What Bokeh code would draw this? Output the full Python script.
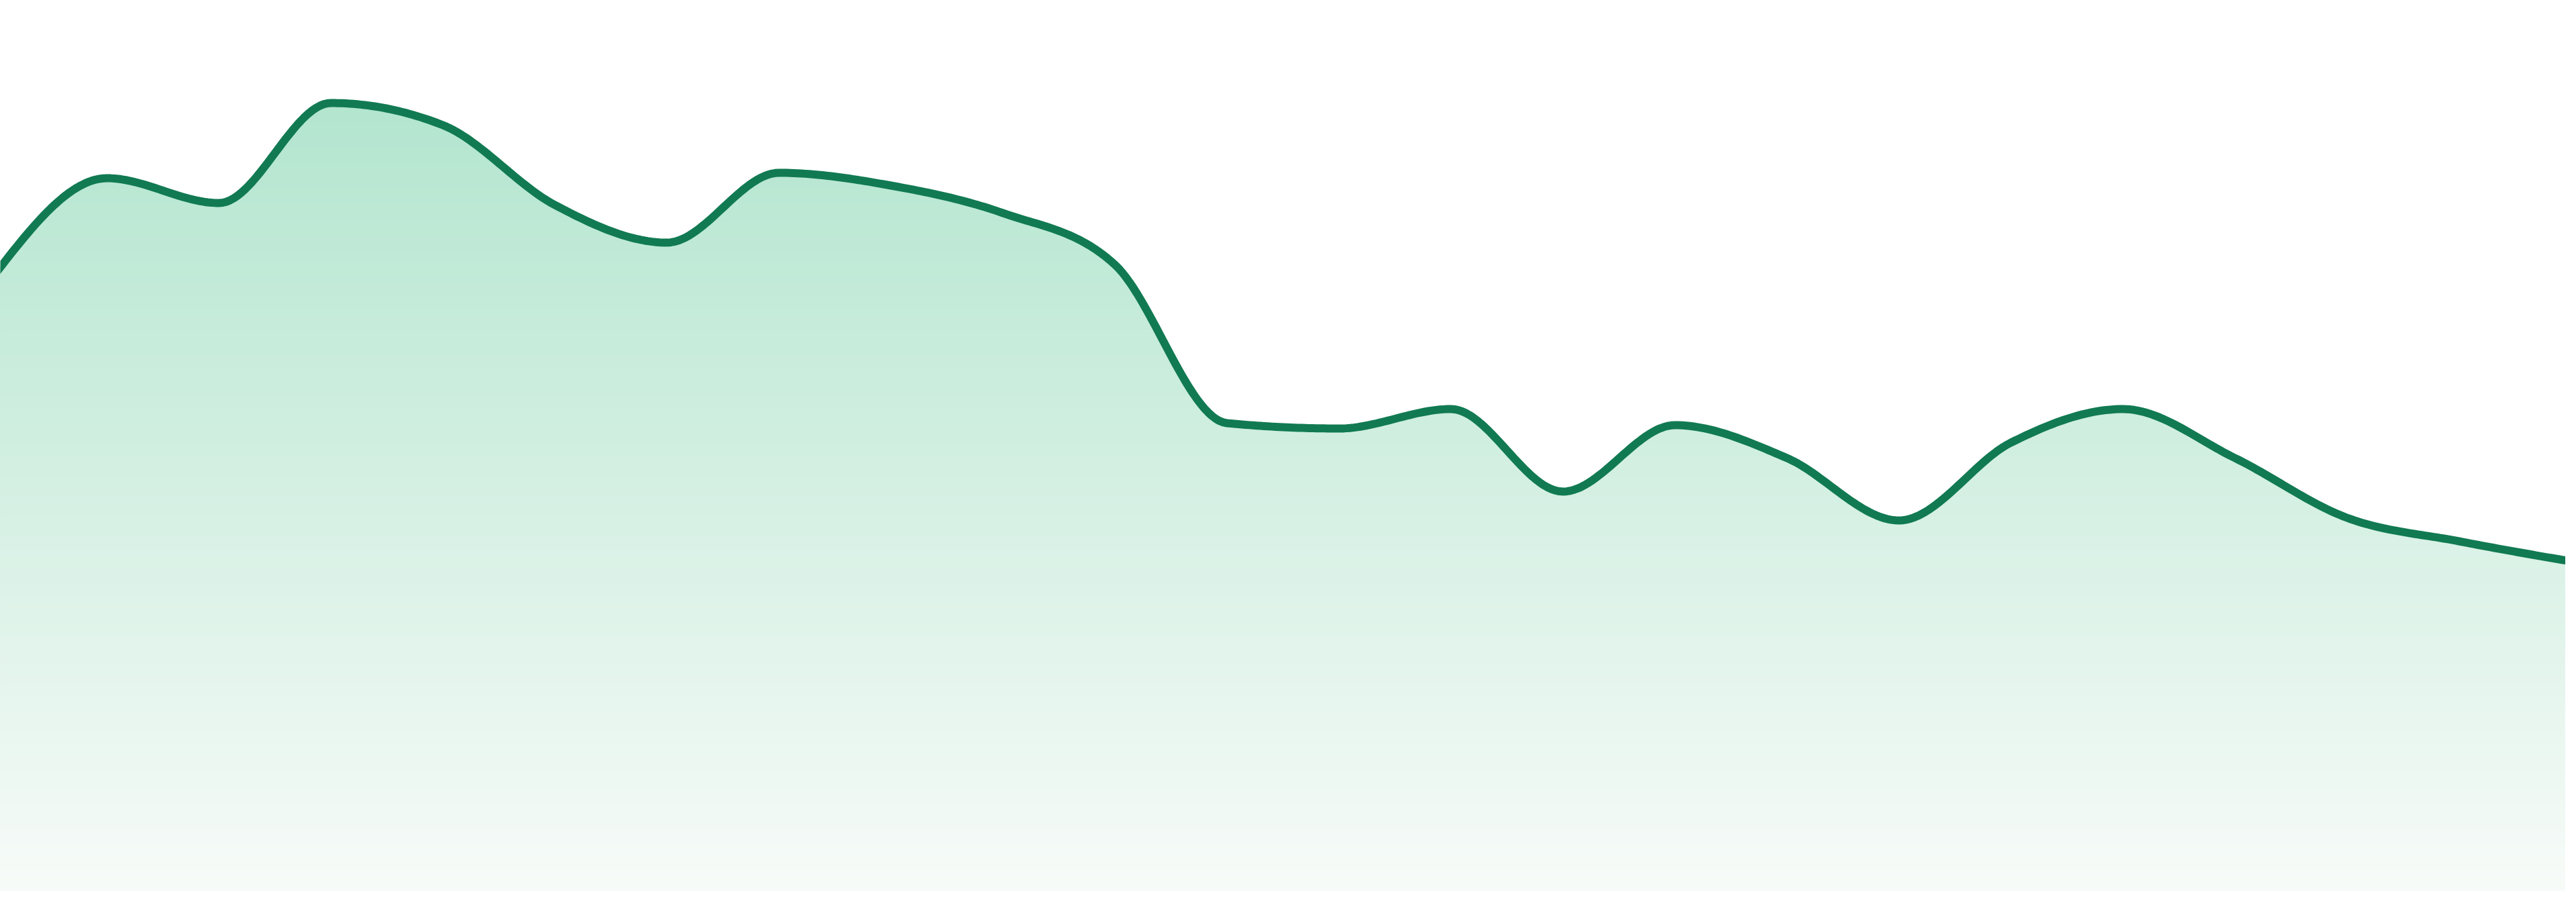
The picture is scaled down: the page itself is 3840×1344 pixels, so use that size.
import numpy as np
from bokeh.plotting import figure
from bokeh.models import Range1d
from bokeh.embed import file_html
from bokeh.resources import INLINE

# ---- data ----
periods = list(range(24))
values = [92.8, 107.1, 103.4, 118.3, 115.0, 103.1, 97.5, 107.9, 106.0, 101.9,
          94.2, 70.6, 69.8, 72.7, 60.4, 70.3, 65.4, 56.1, 67.7, 72.7,
          65.4, 56.5, 53.0, 50.0]

# ---- style ----
LINE_COLOR = "#117a53"
FILL_TOP = (178, 229, 206)
FILL_BOTTOM = (248, 251, 249)
GRAD_TOP_VALUE = 119.4
STEP_PX = 3840 / 23.0   # pixels per period in the reference


def monotone_x(xs, ys, samples=30):
    """d3.curveMonotoneX style interpolation for drawing the smooth curve."""
    xs = np.asarray(xs, float)
    ys = np.asarray(ys, float)
    n = len(xs)
    h = np.diff(xs)
    s = np.diff(ys) / h
    t = np.zeros(n)
    for i in range(1, n - 1):
        s0, s1 = s[i - 1], s[i]
        p = (s0 * h[i] + s1 * h[i - 1]) / (h[i - 1] + h[i])
        t[i] = (np.sign(s0) + np.sign(s1)) * min(abs(s0), abs(s1), 0.5 * abs(p))
    t[0] = (3 * s[0] - t[1]) / 2
    t[-1] = (3 * s[-1] - t[-2]) / 2
    out_x, out_y = [], []
    for i in range(n - 1):
        u = np.linspace(0, 1, samples, endpoint=(i == n - 2))
        h00 = 2 * u**3 - 3 * u**2 + 1
        h10 = u**3 - 2 * u**2 + u
        h01 = -2 * u**3 + 3 * u**2
        h11 = u**3 - u**2
        out_x.append(xs[i] + u * h[i])
        out_y.append(h00 * ys[i] + h10 * h[i] * t[i] + h01 * ys[i + 1] + h11 * h[i] * t[i + 1])
    return np.concatenate(out_x), np.concatenate(out_y)


def grad_color(v):
    f = max(0.0, min(1.0, v / GRAD_TOP_VALUE))
    r, g, b = (int(round(FILL_BOTTOM[k] + f * (FILL_TOP[k] - FILL_BOTTOM[k]))) for k in range(3))
    return "#%02x%02x%02x" % (r, g, b)


cx, cy = monotone_x(periods, values)

W, H = 3824, 1328
p = figure(width=W, height=H,
           x_range=Range1d(8 / STEP_PX, 23 - 8 / STEP_PX),
           y_range=Range1d(0.8, 133.6),
           output_backend="svg", toolbar_location=None, min_border=0,
           x_axis_location=None, y_axis_location=None)
p.grid.visible = False
p.outline_line_color = None
p.background_fill_color = "white"
p.border_fill_color = "white"

# vertical gradient fill built from stacked layers under the curve
zeros = np.zeros_like(cy)
n_layers = 120
edges = np.linspace(GRAD_TOP_VALUE, 0, n_layers + 1)
p.varea(x=cx, y1=zeros, y2=cy, fill_color=grad_color(GRAD_TOP_VALUE))
for j in range(n_layers):
    top = edges[j]
    mid = 0.5 * (edges[j] + edges[j + 1])
    p.varea(x=cx, y1=zeros, y2=np.minimum(cy, top), fill_color=grad_color(mid))

p.line(cx, cy, line_color=LINE_COLOR, line_width=12, line_join="round", line_cap="round")

open("out.html", "w").write(file_html(p, INLINE))
